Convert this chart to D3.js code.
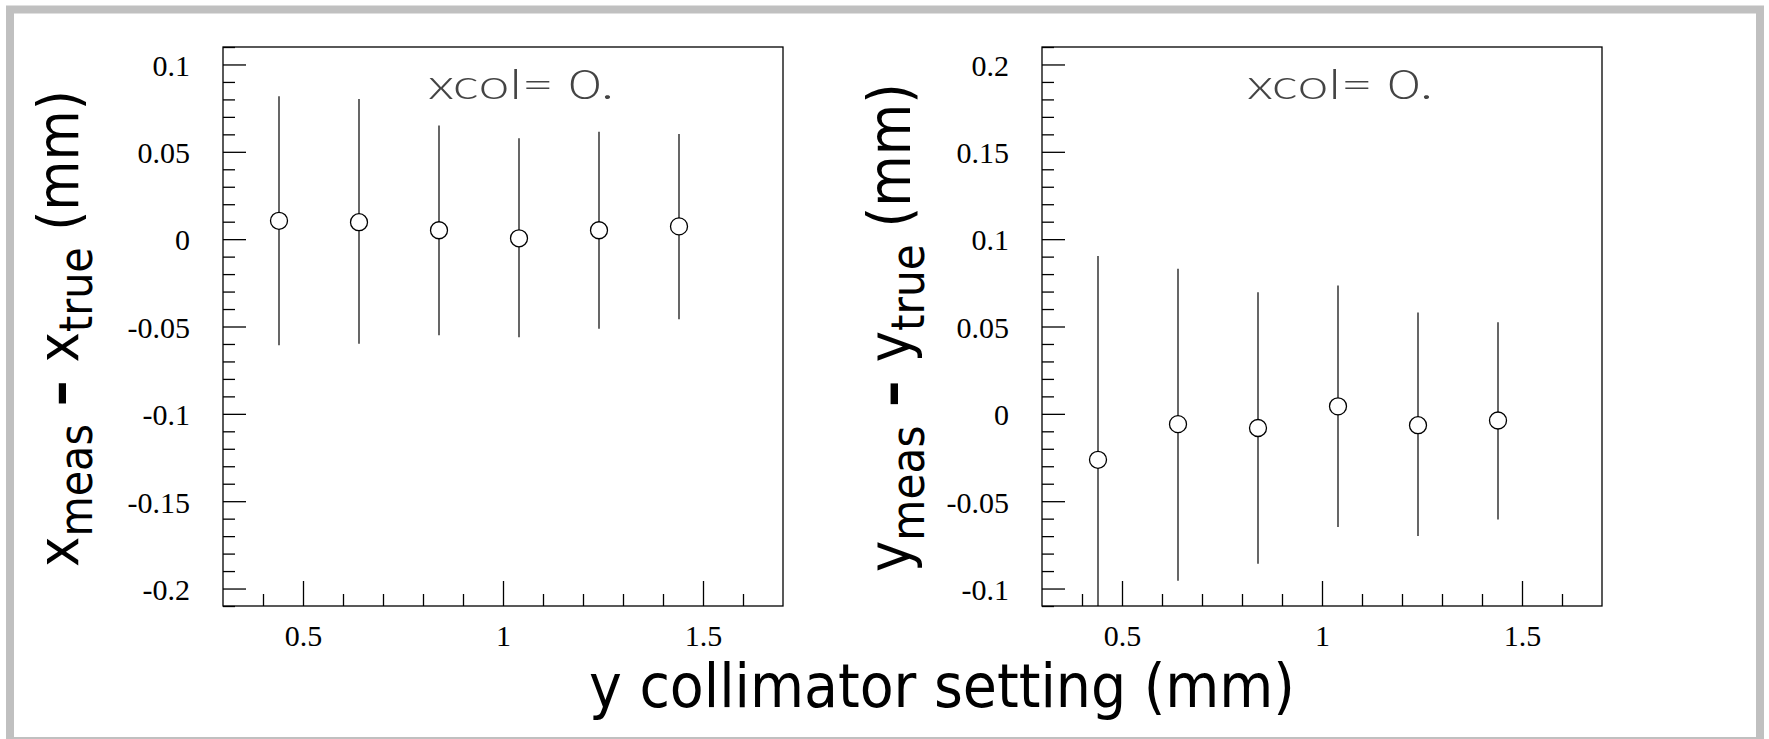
<!DOCTYPE html>
<html>
<head>
<meta charset="utf-8">
<script src="https://cdn.jsdelivr.net/npm/d3@7"></script>
<style>
	body { margin: 0; background: #fff; }
	#chart { width: 1769px; height: 739px; }
	.tick text { font-family: "Liberation Serif", "Times New Roman", serif; fill: #000; }
</style>
</head>
<body>
<div id="chart"></div>
<script>
// collimator settings (x of each point)
var collSetting = [0.44, 0.64, 0.84, 1.04, 1.24, 1.44];

// x_meas - x_true, with upper / lower ends of the error bars
var dxMean = [0.0105, 0.0097, 0.0051, 0.0005, 0.0051, 0.0073];
var dxHigh = [0.0818, 0.0802, 0.0650, 0.0578, 0.0615, 0.0602];
var dxLow = [-0.0607, -0.0599, -0.0550, -0.0561, -0.0513, -0.0459];

// y_meas - y_true
var dyMean = [-0.0263, -0.0059, -0.0081, 0.0043, -0.0065, -0.0038];
var dyHigh = [0.0904, 0.0831, 0.0696, 0.0734, 0.0580, 0.0524];
var dyLow = [-0.140, -0.0955, -0.0858, -0.0648, -0.0699, -0.0605];

var xTicks = [0.5, 1, 1.5];
var yTicksLeft = [-0.2, -0.15, -0.1, -0.05, 0, 0.05, 0.1];
var yTicksRight = [-0.1, -0.05, 0, 0.05, 0.1, 0.15, 0.2];

var width = 1769;
var height = 739;
var svg = d3.select("#chart")
	.append("svg")
	.attr("width", width)
	.attr("height", height);

// grey canvas frame
svg.append("rect")
	.attr("x", 10)
	.attr("y", 9.5)
	.attr("width", 1750)
	.attr("height", 731.5)
	.attr("fill", "none")
	.attr("stroke", "#c0c0c0")
	.attr("stroke-width", 8);

var top0 = 47, bottom0 = 606;
var titleFont = "'Liberation Sans Narrow', 'DejaVu Sans Condensed', 'Liberation Sans', sans-serif";

function fmt(d) {
	return String(+d.toFixed(2));
}

function drawPanel(left, right, yDomain, yTicks, mean, high, low, id) {
	var xScale = d3.scaleLinear().domain([0.3, 1.7]).range([left, right]);
	var yScale = d3.scaleLinear().domain(yDomain).range([bottom0, top0]);

	var g = svg.append("g");

	// minor ticks
	var yMinor = d3.range(Math.round(yDomain[0] * 100), Math.round(yDomain[1] * 100) + 1)
		.map(function(v) { return v / 100; })
		.filter(function(v) { return Math.round(v * 100) % 5 != 0; });
	g.append("g")
		.attr("transform", "translate(" + left + ",0)")
		.call(d3.axisLeft(yScale).tickValues(yMinor).tickSize(-12).tickFormat(""))
		.call(function(a) { a.select(".domain").remove(); });
	var xMinor = d3.range(4, 17).map(function(v) { return v / 10; })
		.filter(function(v) { return v != 0.5 && v != 1 && v != 1.5; });
	g.append("g")
		.attr("transform", "translate(0," + bottom0 + ")")
		.call(d3.axisBottom(xScale).tickValues(xMinor).tickSize(-12).tickFormat(""))
		.call(function(a) { a.select(".domain").remove(); });

	// major ticks + labels
	g.append("g")
		.attr("transform", "translate(" + left + ",0)")
		.call(d3.axisLeft(yScale).tickValues(yTicks).tickSize(-23).tickPadding(33).tickFormat(fmt))
		.call(function(a) {
			a.select(".domain").remove();
			a.selectAll("text").style("font-size", "30px").attr("dy", "0.36em");
		});
	g.append("g")
		.attr("transform", "translate(0," + bottom0 + ")")
		.call(d3.axisBottom(xScale).tickValues(xTicks).tickSize(-25).tickPadding(19).tickFormat(fmt))
		.call(function(a) {
			a.select(".domain").remove();
			a.selectAll("text").style("font-size", "30px");
		});
	g.selectAll(".tick line").attr("stroke", "#000").attr("stroke-width", 1.3);

	// frame
	g.append("rect")
		.attr("x", left)
		.attr("y", top0)
		.attr("width", right - left)
		.attr("height", bottom0 - top0)
		.attr("fill", "none")
		.attr("stroke", "#000")
		.attr("stroke-width", 1.3);

	svg.append("clipPath")
		.attr("id", id)
		.append("rect")
		.attr("x", left)
		.attr("y", top0)
		.attr("width", right - left)
		.attr("height", bottom0 - top0);

	var pts = collSetting.map(function(x, i) {
		return { x: x, m: mean[i], hi: high[i], lo: low[i] };
	});

	var pg = g.append("g").attr("clip-path", "url(#" + id + ")");
	pg.selectAll("line.err")
		.data(pts)
		.enter()
		.append("line")
		.attr("class", "err")
		.attr("x1", function(d) { return xScale(d.x); })
		.attr("x2", function(d) { return xScale(d.x); })
		.attr("y1", function(d) { return yScale(d.hi); })
		.attr("y2", function(d) { return yScale(d.lo); })
		.attr("stroke", "#000")
		.attr("stroke-width", 1.2);
	pg.selectAll("circle")
		.data(pts)
		.enter()
		.append("circle")
		.attr("cx", function(d) { return xScale(d.x); })
		.attr("cy", function(d) { return yScale(d.m); })
		.attr("r", 8.5)
		.attr("fill", "#fff")
		.attr("stroke", "#000")
		.attr("stroke-width", 1.3);

	// label inside the pad
	g.append("text")
		.attr("x", left + 205)
		.attr("y", 99)
		.attr("textLength", 186)
		.attr("lengthAdjust", "spacingAndGlyphs")
		.style("font-family", "Lato, 'Open Sans', sans-serif")
		.style("font-weight", 300)
		.style("font-size", "42px")
		.attr("fill", "#444")
		.text("xcol= 0.");
}

drawPanel(223, 783, [-0.21, 0.11], yTicksLeft, dxMean, dxHigh, dxLow, "clipL");
drawPanel(1042, 1602, [-0.11, 0.21], yTicksRight, dyMean, dyHigh, dyLow, "clipR");

// x axis title
svg.append("text")
	.attr("x", 589)
	.attr("y", 707)
	.attr("textLength", 706)
	.attr("lengthAdjust", "spacingAndGlyphs")
	.style("font-family", titleFont)
	.style("font-size", "60px")
	.text("y collimator setting (mm)");

// y axis titles, rotated with subscripts
function yTitle(x, yStart, yEnd, v) {
	var t = svg.append("text")
		.attr("transform", "translate(" + x + "," + yStart + ") rotate(-90)")
		.style("font-family", titleFont)
		.style("font-size", "60px");
	t.append("tspan").text(v);
	t.append("tspan").style("font-size", "0.8em").attr("dy", "0.3em").text("meas");
	t.append("tspan").attr("dy", "-0.24em").style("font-weight", "bold").text(" \u2013 ");
	t.append("tspan").text(v);
	t.append("tspan").style("font-size", "0.8em").attr("dy", "0.3em").text("true");
	t.append("tspan").attr("dy", "-0.24em").text("  (mm)");
	var len = t.node().getComputedTextLength();
	t.style("font-size", (60 * (yStart - yEnd) / len) + "px");
}
yTitle(78, 567, 90, "x");
yTitle(910, 572, 83, "y");
</script>
</body>
</html>
